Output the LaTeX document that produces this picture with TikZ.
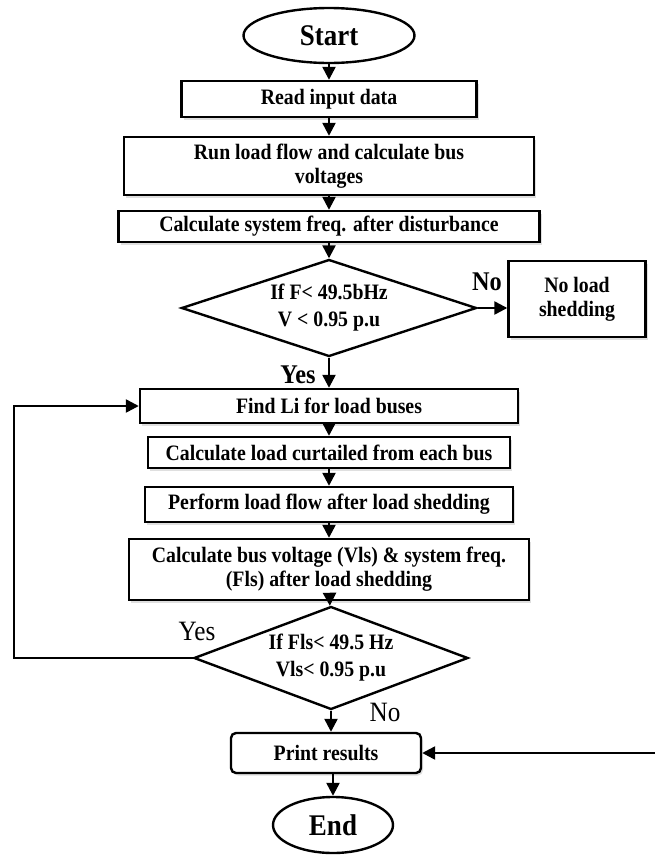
\documentclass[tikz,border=0pt]{standalone}
\usepackage{fontspec}
\setmainfont{Liberation Serif}[FakeStretch=0.9]
\usepackage{tikz}
\usetikzlibrary{
  positioning, shapes, shapes.geometric,
  arrows.meta, calc, shadows
}
\tikzset{
  stepbox/.style={
    draw, fill=white, line width=2.4pt,
    drop shadow={shadow xshift=2pt, shadow yshift=-2.5pt, opacity=0.25},
    inner sep=2pt, align=center,
    font=\fontsize{22}{24}\selectfont\bfseries
  },
  decision/.style={
    diamond, aspect=3, draw, fill=white, line width=2.4pt,
    inner sep=1pt, align=center,
    font=\fontsize{22}{27}\selectfont\bfseries
  },
  terminal/.style={
    ellipse, draw, fill=white, line width=2.4pt,
    inner sep=0pt, font=\fontsize{30}{32}\selectfont\bfseries
  },
  arrow/.style={-{Triangle[length=13pt,width=13pt]}, line width=2.4pt},
  lbl/.style={font=\fontsize{28}{30}\selectfont},
  lblb/.style={font=\fontsize{27}{29}\selectfont\bfseries}
}

\begin{document}
\begin{tikzpicture}[x=1pt, y=-1pt]
\useasboundingbox (0,0) rectangle (654,855);

%% ── Upper part ───────────────────────────────────────────────
\node[terminal, minimum width=171, minimum height=55] (start) at (329,35.5) {Start};

\node[stepbox, minimum width=295, minimum height=36] (read) at (329,99) {Read input data};

\node[stepbox, minimum width=410, minimum height=58] (runlf) at (329,166)
  {Run load flow and calculate bus\\voltages};

\node[stepbox, minimum width=421, minimum height=31] (calcf) at (329,226.5)
  {Calculate system freq. after disturbance};

\node[decision, minimum width=295, minimum height=97] (dec1) at (329,308)
  {If F< 49.5bHz\\V < 0.95 p.u};

\node[stepbox, minimum width=137, minimum height=76] (noshed) at (577,299)
  {No load\\shedding};

%% ── Load shedding loop ───────────────────────────────────────
\node[stepbox, minimum width=378, minimum height=34] (findli) at (329,406)
  {Find Li for load buses};

\node[stepbox, minimum width=362, minimum height=31] (curt) at (329,452.5)
  {Calculate load curtailed from each bus};

\node[stepbox, minimum width=368, minimum height=35] (perf) at (329,504.5)
  {Perform load flow after load shedding};

\node[stepbox, minimum width=400, minimum height=61] (calcv) at (329,569.5)
  {Calculate bus voltage (Vls) \& system freq.\\(Fls) after load shedding};

\node[decision, minimum width=274, minimum height=103] (dec2) at (331,658)
  {If Fls< 49.5 Hz\\Vls< 0.95 p.u};

%% ── Lower part ───────────────────────────────────────────────
\node[stepbox, rounded corners=5pt, minimum width=190, minimum height=40] (print) at (326,753)
  {Print results};

\node[terminal, minimum width=120, minimum height=56] (end) at (333,825) {End};

\coordinate (loop) at (14,658);
\coordinate (ext) at (656,753);

%% ── Connectors ───────────────────────────────────────────────
\draw[arrow] (start) -- (read);
\draw[arrow] (read) -- (runlf);
\draw[arrow] (runlf) -- (calcf);
\draw[arrow] (calcf) -- (dec1);
\draw[arrow] (dec1.east) -- (dec1.east -| noshed.west);
\draw[arrow] (dec1) -- (findli);
\draw[arrow] (findli) -- (curt);
\draw[arrow] (curt) -- (perf);
\draw[arrow] (perf) -- (calcv);
\draw[arrow] (calcv) -- (dec2);
\draw[arrow] (dec2.west) -- (loop) |- (findli.west);
\draw[arrow] (dec2.south) -- (dec2.south |- print.north);
\draw[arrow] (ext) -- (print.east);
\draw[arrow] (end.north |- print.south) -- (end);

%% ── Branch labels ────────────────────────────────────────────
\node[lblb] (no1) at (487,282) {No};
\node[lblb] (yes1) at (298,375) {Yes};
\node[lbl] (yes2) at (197,631) {Yes};
\node[lbl] (no2) at (385,712) {No};

\end{tikzpicture}
\end{document}
